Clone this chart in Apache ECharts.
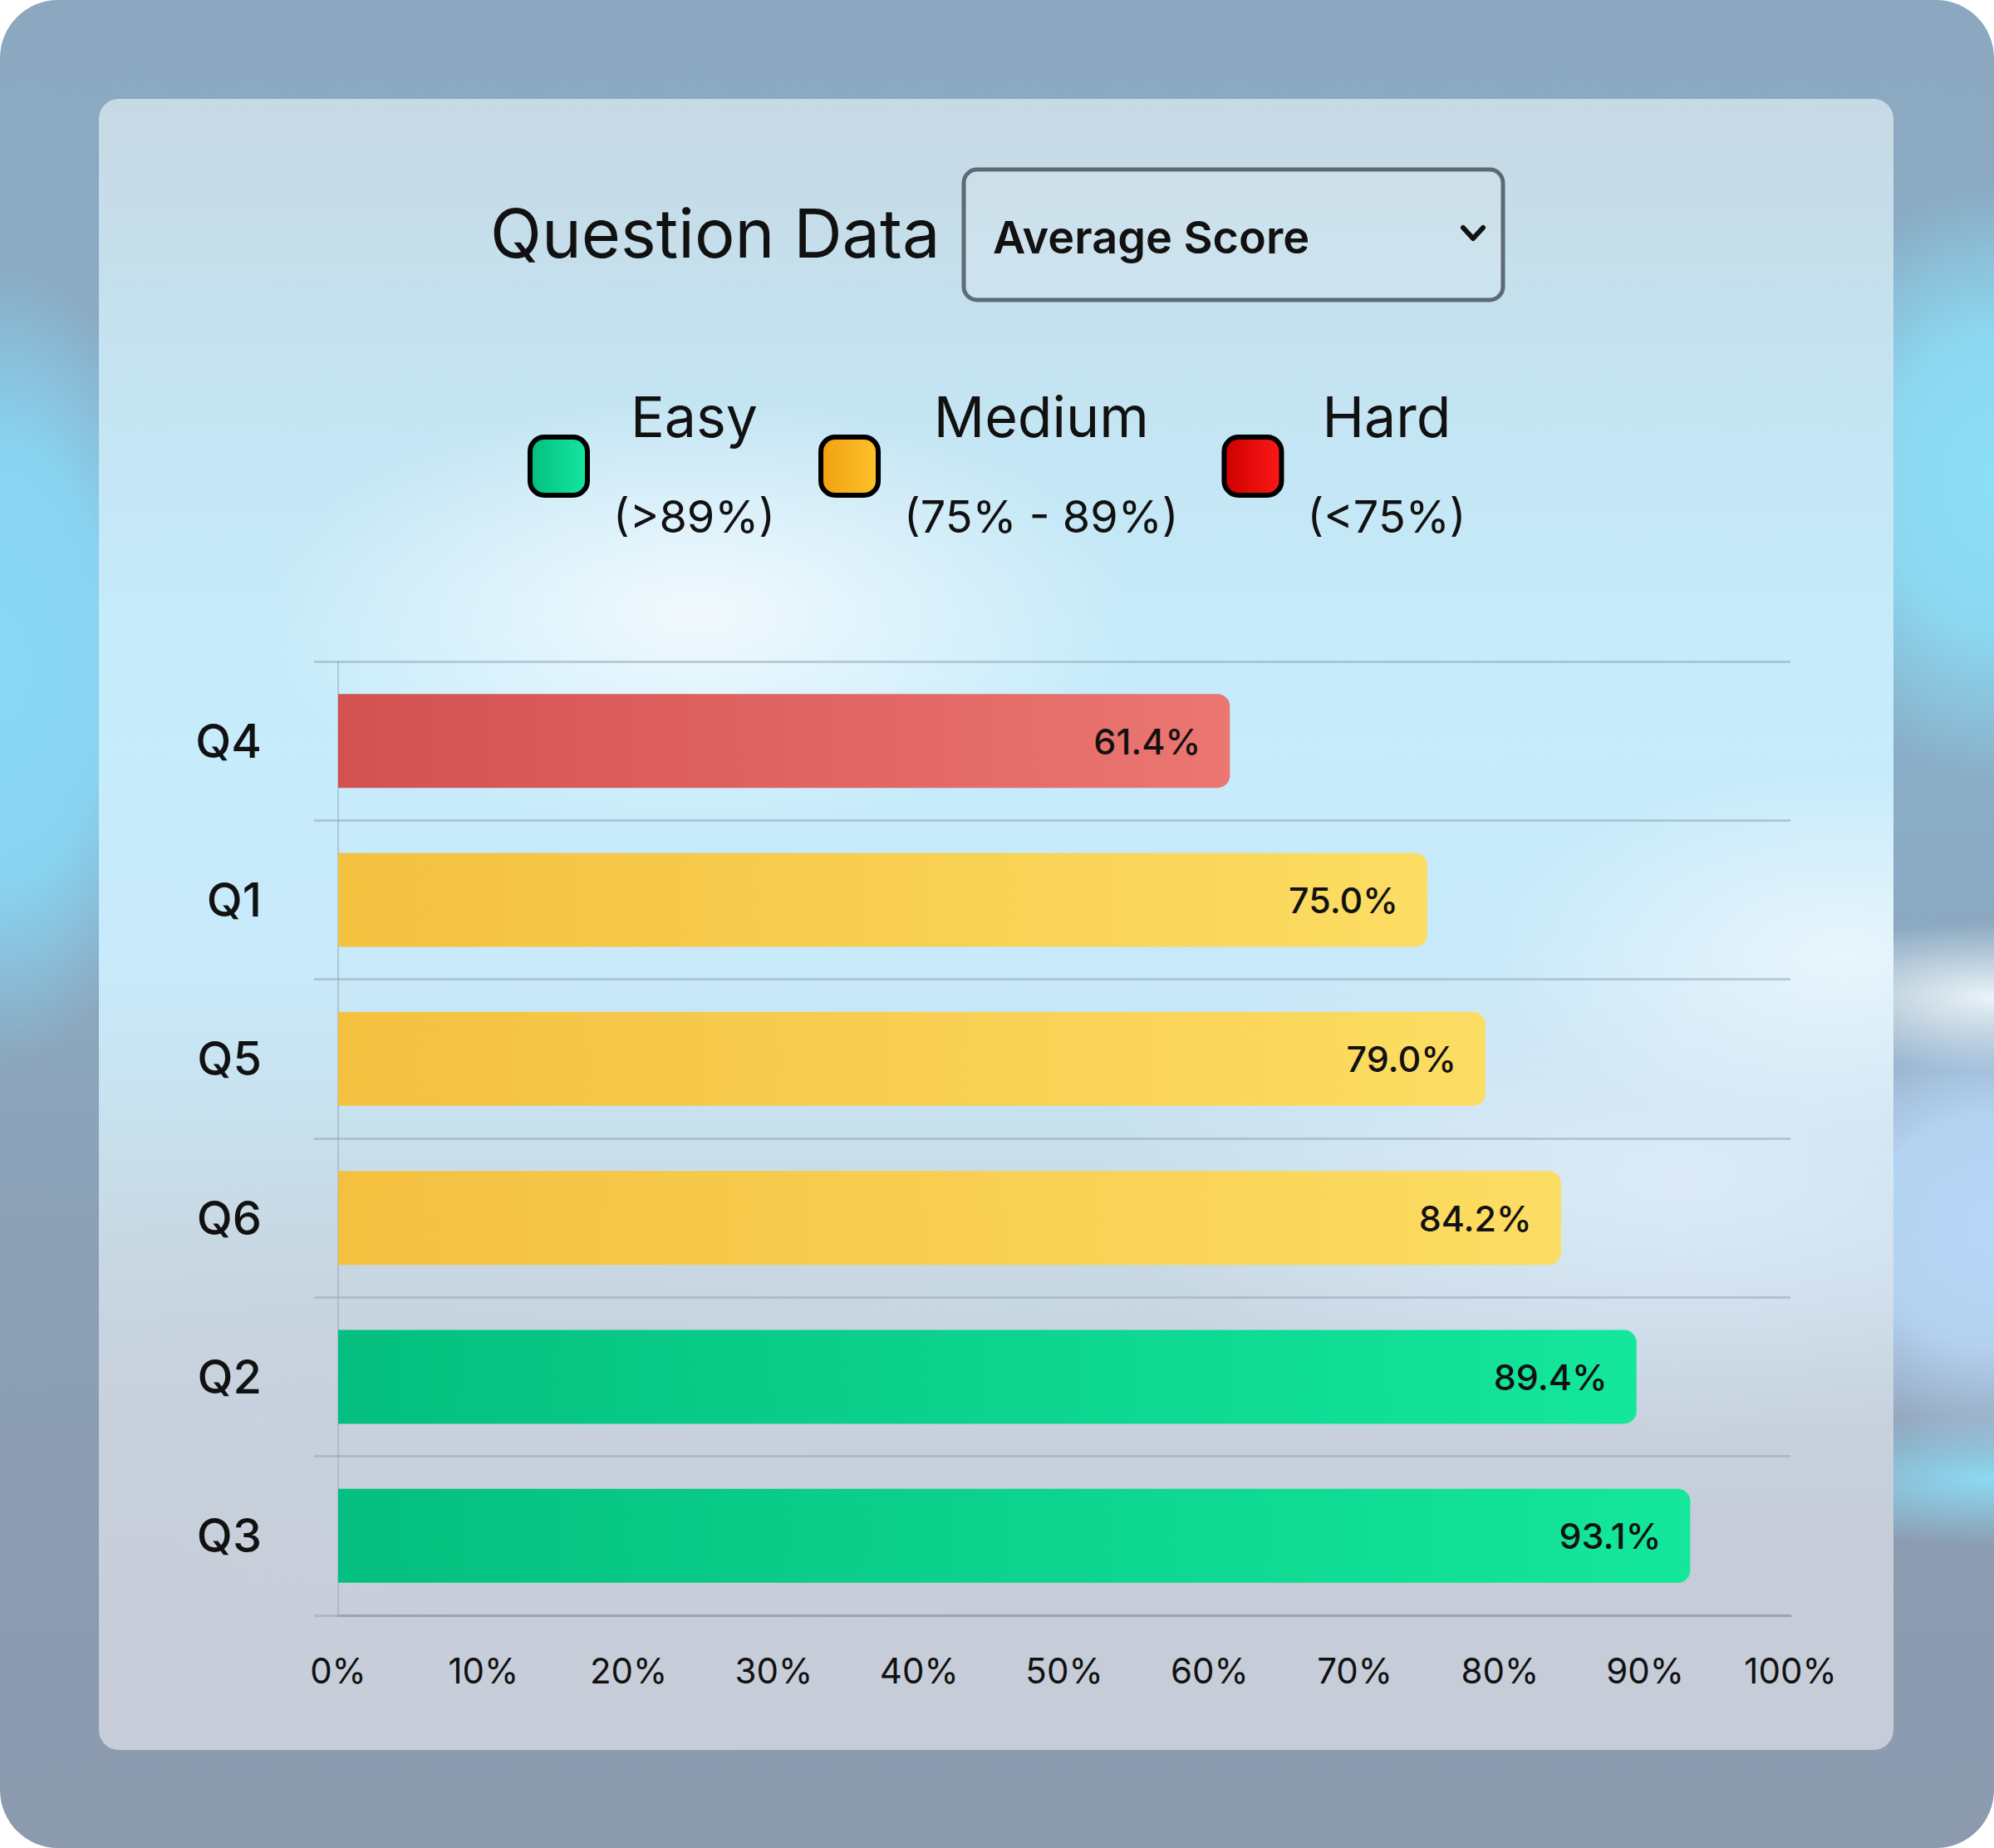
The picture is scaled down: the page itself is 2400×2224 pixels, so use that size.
<!DOCTYPE html>
<html lang="en">
<head>
    <meta charset="UTF-8">
    <title>Question Data</title>
    <script src="https://cdn.jsdelivr.net/npm/echarts@6/dist/echarts.min.js"></script>
    <style>
        html,
        body {
            margin: 0;
            width: 2400px;
            height: 2224px;
            background: #ffffff;
            overflow: hidden;
        }
        #frame {
            position: absolute;
            left: 0;
            top: 0;
            width: 2400px;
            height: 2224px;
            border-radius: 70px;
            overflow: hidden;
            background:
                radial-gradient(ellipse 240px 480px at 0px 800px, rgba(136, 218, 248, 0.95) 0%, rgba(136, 218, 248, 0.85) 55%, rgba(136, 218, 248, 0) 100%),
                radial-gradient(ellipse 260px 360px at 2400px 580px, rgba(140, 226, 250, 0.95) 0%, rgba(140, 226, 250, 0.8) 50%, rgba(140, 226, 250, 0) 100%),
                radial-gradient(ellipse 300px 90px at 2400px 1200px, rgba(240, 248, 252, 0.95), rgba(240, 248, 252, 0) 100%),
                radial-gradient(ellipse 300px 280px at 2400px 1480px, rgba(186, 218, 250, 0.95) 0%, rgba(186, 218, 250, 0.85) 50%, rgba(186, 218, 250, 0) 100%),
                radial-gradient(ellipse 300px 80px at 2400px 1780px, rgba(140, 224, 250, 0.9), rgba(140, 224, 250, 0) 100%),
                linear-gradient(180deg, #8ba8c0 0%, #8aaec8 40%, #8c9fb4 70%, #8c9aae 100%);
        }
        #panel {
            position: absolute;
            left: 119px;
            top: 119px;
            width: 2160px;
            height: 1987px;
            border-radius: 24px;
            overflow: hidden;
            background:
                radial-gradient(ellipse 520px 260px at 720px 620px, rgba(244, 250, 254, 0.95), rgba(244, 250, 254, 0) 100%),
                radial-gradient(ellipse 420px 220px at 2100px 1030px, rgba(236, 246, 252, 0.9), rgba(236, 246, 252, 0) 100%),
                radial-gradient(ellipse 700px 300px at 1900px 1300px, rgba(222, 236, 250, 0.9), rgba(222, 236, 250, 0) 100%),
                radial-gradient(ellipse 900px 420px at 300px 1700px, rgba(200, 208, 220, 0.9), rgba(200, 208, 220, 0) 100%),
                linear-gradient(180deg, #c7d9e4 0%, #c4e4f2 18%, #c6ecfb 35%, #c8eafa 52%, #c8dbe6 68%, #c6ccd8 88%, #c6ccd8 100%);
        }
        #main {
            position: absolute;
            left: 0;
            top: 0;
            width: 2400px;
            height: 2224px;
        }
    </style>
</head>
<body>
    <div id="frame"><div id="panel"></div></div>
    <div id="main"></div>
    <script type="text/javascript">
        const questions = ['Q4', 'Q1', 'Q5', 'Q6', 'Q2', 'Q3'];
        const scores = [61.4, 75.0, 79.0, 84.2, 89.4, 93.1];
        const levels = ['Easy', 'Medium', 'Hard'];
        const levelRanges = ['(>89%)', '(75% - 89%)', '(<75%)'];
        const xTicks = [0, 10, 20, 30, 40, 50, 60, 70, 80, 90, 100];

        const FONT = 'Inter, "Noto Sans", sans-serif';

        const levelOf = v => v > 89 ? 'Easy' : (v >= 75 ? 'Medium' : 'Hard');

        const grad = (a, b) => new echarts.graphic.LinearGradient(0, 0, 1, 0, [
            { offset: 0, color: a },
            { offset: 1, color: b }
        ]);

        // bar colours and the brighter legend swatches
        const barColors = {
            Easy: ['#04bf7f', '#14e79c'],
            Medium: ['#f4c040', '#fcdd63'],
            Hard: ['#d35151', '#eb7672']
        };
        const swatchColors = {
            Easy: ['#05bf7e', '#15e6a2'],
            Medium: ['#f2a012', '#fcc22a'],
            Hard: ['#cc0000', '#ff1818']
        };

        const myChart = echarts.init(document.getElementById('main'), null, { renderer: 'svg' });

        const series = levels.map(lv => ({
            name: lv,
            type: 'bar',
            stack: 'score',
            barWidth: 113,
            data: scores.map(v => levelOf(v) === lv ? v : '-'),
            itemStyle: {
                color: grad(barColors[lv][0], barColors[lv][1]),
                borderRadius: [0, 15, 15, 0]
            },
            label: {
                show: true,
                position: 'insideRight',
                distance: 35,
                fontFamily: FONT,
                fontSize: 43,
                fontWeight: 500,
                color: '#111',
                formatter: p => p.value.toFixed(1) + '%'
            },
            emphasis: { disabled: true }
        }));

        myChart.setOption({
            animation: false,
            textStyle: { fontFamily: FONT },
            title: {
                text: 'Question Data',
                left: 590,
                top: 231,
                padding: 0,
                textStyle: {
                    fontFamily: FONT,
                    fontSize: 81,
                    fontWeight: 400,
                    lineHeight: 100,
                    color: '#111'
                }
            },
            legend: {
                left: 635,
                top: 467,
                padding: 0,
                itemWidth: 69,
                itemHeight: 70,
                itemGap: 52,
                icon: 'roundRect',
                selectedMode: false,
                data: levels.map(lv => ({
                    name: lv,
                    itemStyle: {
                        color: grad(swatchColors[lv][0], swatchColors[lv][1]),
                        borderColor: '#000',
                        borderWidth: 6
                    }
                })),
                formatter: name => `{t|${name}}\n{s|${levelRanges[levels.indexOf(name)]}}`,
                textStyle: {
                    rich: {
                        t: {
                            fontFamily: FONT,
                            fontSize: 68,
                            lineHeight: 120,
                            color: '#111',
                            align: 'center',
                            padding: [0, 0, 0, 26]
                        },
                        s: {
                            fontFamily: FONT,
                            fontSize: 54,
                            lineHeight: 120,
                            color: '#111',
                            align: 'center',
                            padding: [0, 0, 0, 26]
                        }
                    }
                }
            },
            graphic: [
                {
                    type: 'rect',
                    shape: { x: 1160, y: 204, width: 649, height: 157, r: 16 },
                    style: { fill: 'rgba(255,255,255,0.12)', stroke: '#5f6b74', lineWidth: 5 }
                },
                {
                    type: 'text',
                    x: 1195,
                    y: 285,
                    style: {
                        text: 'Average Score',
                        fontFamily: FONT,
                        fontSize: 54,
                        fontWeight: 600,
                        fill: '#111',
                        verticalAlign: 'middle'
                    }
                },
                {
                    type: 'polyline',
                    shape: { points: [[1761, 274], [1773, 287], [1785, 274]] },
                    style: { stroke: '#111', lineWidth: 6, fill: null, lineCap: 'round', lineJoin: 'round' }
                }
            ],
            grid: {
                left: 407,
                right: 245,
                top: 796,
                bottom: 280,
                containLabel: false
            },
            xAxis: {
                type: 'value',
                min: xTicks[0],
                max: xTicks[xTicks.length - 1],
                interval: 10,
                axisLine: { show: true, lineStyle: { color: '#9aa4b0', width: 3 } },
                axisTick: { show: false },
                splitLine: { show: false },
                axisLabel: {
                    margin: 45,
                    fontFamily: FONT,
                    fontSize: 42,
                    color: '#111',
                    formatter: '{value}%'
                }
            },
            yAxis: {
                type: 'category',
                inverse: true,
                data: questions,
                axisLine: { show: true, lineStyle: { color: 'rgba(150,170,185,0.55)', width: 2 } },
                axisTick: { show: true, length: 29, lineStyle: { color: 'rgba(150,170,185,0.55)', width: 3 } },
                splitLine: { show: true, lineStyle: { color: 'rgba(150,170,185,0.55)', width: 3 } },
                axisLabel: {
                    margin: 92,
                    fontFamily: FONT,
                    fontSize: 56,
                    fontWeight: 500,
                    color: '#111'
                }
            },
            series: series
        });
    </script>
</body>
</html>
